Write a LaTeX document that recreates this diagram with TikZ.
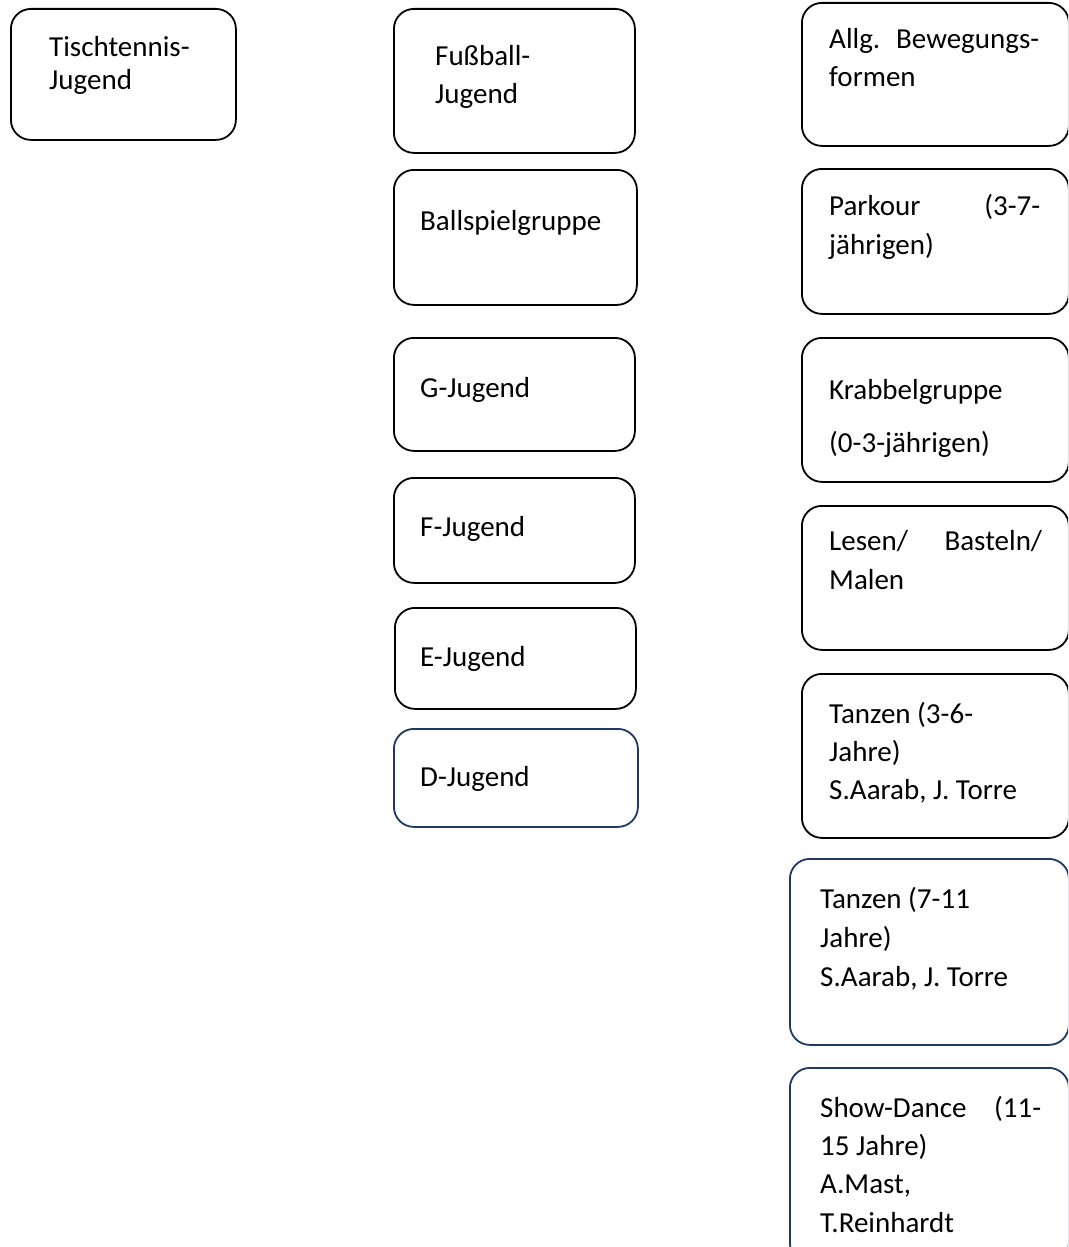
\documentclass[tikz,border=0pt]{standalone}
\usepackage{fontspec}
\setmainfont{Carlito}
\usetikzlibrary{positioning}
\definecolor{navy}{RGB}{31,56,100}
\tikzset{kb/.style={draw,rounded corners=20pt,line width=1.8pt,inner sep=0pt,anchor=north west},
 nb/.style={kb,draw=navy},
 tx/.style={align=left,inner sep=0pt,anchor=base west,font=\fontsize{29}{39}\selectfont}}
\begin{document}
\begin{tikzpicture}[x=1pt,y=-1pt]
\clip (0,0) rectangle (1068,1247);
% linke Spalte
\node[kb,minimum width=225pt,minimum height=131pt](tt)at(10,8){};
\node[tx](ttt)at(49,89){Tischtennis-\\[-6pt]Jugend};
% mittlere Spalte
\node[kb,minimum width=241pt,minimum height=144pt](fb)at(393,8){};
\node[tx](fbt)at(435,103){Fußball-\\[-1pt]Jugend};
\node[kb,minimum width=243pt,minimum height=135pt](bs)at(393,169){};
\node[tx](bst)at(420,230){Ballspielgruppe};
\node[kb,minimum width=241pt,minimum height=113pt](gj)at(393,337){};
\node[tx](gjt)at(420,397){G-Jugend};
\node[kb,minimum width=241pt,minimum height=105pt](fj)at(393,477){};
\node[tx](fjt)at(420,536){F-Jugend};
\node[kb,minimum width=241pt,minimum height=101pt](ej)at(394,607){};
\node[tx](ejt)at(420,666){E-Jugend};
\node[nb,minimum width=244pt,minimum height=98pt](dj)at(393,728){};
\node[tx](djt)at(420,786){D-Jugend};
% rechte Spalte
\node[kb,minimum width=267pt,minimum height=143pt](ab)at(801,2){};
\node[tx](abt)at(829,86){\makebox[210pt][s]{Allg. Bewegungs-}\\[-1pt]formen};
\node[kb,minimum width=267pt,minimum height=145pt](pk)at(801,168){};
\node[tx](pkt)at(829,254){\makebox[211pt][s]{Parkour (3-7-}\\jährigen)};
\node[kb,minimum width=267pt,minimum height=144pt](kg)at(801,337){};
\node[tx](kgt)at(829,452){Krabbelgruppe\\[14pt](0-3-jährigen)};
\node[kb,minimum width=267pt,minimum height=144pt](lb)at(801,505){};
\node[tx](lbt)at(829,589){\makebox[213pt][s]{Lesen/ Basteln/}\\Malen};
\node[kb,minimum width=267pt,minimum height=164pt](ta)at(801,673){};
\node[tx](tat)at(829,799){Tanzen (3-6-\\[-1pt]Jahre)\\[-1pt]S.Aarab, J. Torre};
\node[nb,minimum width=279pt,minimum height=186pt](tb)at(789,858){};
\node[tx](tbt)at(820,986){Tanzen (7-11\\Jahre)\\S.Aarab, J. Torre};
\node[nb,minimum width=279pt,minimum height=195pt](sd)at(789,1067){};
\node[tx](sdt)at(820,1232){\makebox[221pt][s]{Show-Dance (11-}\\[-1pt]15 Jahre)\\[-1pt]A.Mast,\\T.Reinhardt};
\end{tikzpicture}
\end{document}
